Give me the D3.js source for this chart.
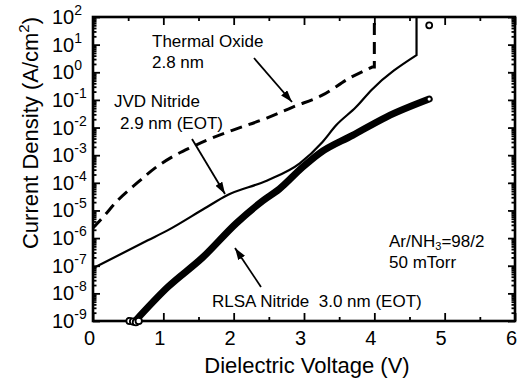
<!DOCTYPE html>
<html>
<head>
<meta charset="utf-8">
<script src="https://cdn.jsdelivr.net/npm/d3@7"></script>
<style>
  body { margin: 0; background: #fff; }
  svg { font-family: "Liberation Sans", Arial, Helvetica, sans-serif; }
</style>
</head>
<body>
<svg id="chart" width="519" height="384"></svg>
<script>
// Data (V in volts, J in A/cm^2)
const voltageTicks = [0, 1, 2, 3, 4, 5, 6];
const voltageMinor = [0.5, 1.5, 2.5, 3.5, 4.5, 5.5];
const decadeExps = [2, 1, 0, -1, -2, -3, -4, -5, -6, -7, -8, -9];

// Thermal oxide 2.8 nm (dashed), ends with breakdown jump at 4 V
const oxideV = [0, 0.14, 0.35, 0.64, 0.88, 1.12, 1.40, 1.62, 1.99, 2.47, 2.84, 3.26, 3.65, 3.97];
const oxideJ = [2.3e-6, 5.6e-6, 2.3e-5, 1.05e-4, 3.4e-4, 8.5e-4, 1.95e-3, 3.5e-3, 8.1e-3, 2.2e-2, 5.5e-2, 0.148, 0.62, 1.55];
const oxideBreak = [4.0, 100];

// JVD nitride 2.9 nm EOT (thin solid), breakdown at 4.6 V
const jvdV = [0, 0.78, 1.06, 1.59, 1.9, 2.47, 2.94, 3.26, 3.46, 3.74, 3.96, 4.6];
const jvdJ = [8.1e-8, 8.3e-7, 1.9e-6, 1.2e-5, 3.5e-5, 1.2e-4, 5.1e-4, 2.95e-3, 1.23e-2, 5.5e-2, 0.23, 4.2];
const jvdBreak = [4.6, 100];

// RLSA nitride 3.0 nm EOT (thick, open circles)
const rlsaV = [0.6, 1.06, 1.56, 2.04, 2.41, 2.65, 2.98, 3.22, 3.69, 4.17, 4.78];
const rlsaJ = [1.0e-9, 1.66e-8, 2.0e-7, 3.5e-6, 2.2e-5, 6.0e-5, 3.7e-4, 1.17e-3, 5.2e-3, 2.4e-2, 0.107];
const rlsaLowV = [0.52, 0.57, 0.61, 0.65];
const rlsaLowJ = [1.0e-9, 0.95e-9, 0.9e-9, 1.0e-9];
const rlsaBreak = [4.78, 50];

const svg = d3.select("#chart");
const margin = { left: 93, right: 515, top: 17, bottom: 321 };

const x = d3.scaleLinear().domain([0, 6]).range([margin.left, margin.right]);
const y = d3.scaleLog().domain([1e-9, 1e2]).range([margin.bottom, margin.top]);

const minorJ = [];
decadeExps.forEach(e => {
  if (e < 2) for (let k = 2; k <= 9; k++) minorJ.push(k * Math.pow(10, e));
});

// axes with inward ticks
function styleAxis(g) {
  g.select(".domain").remove();
  g.selectAll(".tick line").attr("stroke", "#000").attr("stroke-width", 1.8);
}

svg.append("g")
  .attr("transform", "translate(0," + margin.bottom + ")")
  .call(d3.axisBottom(x).tickValues(voltageTicks).tickSize(-8).tickPadding(10).tickFormat(d3.format("d")))
  .call(styleAxis)
  .call(g => g.selectAll(".tick text")
    .attr("font-size", 20).attr("fill", "#000").attr("dx", -4)
    .attr("font-family", "'Liberation Sans', Arial, sans-serif"));

svg.append("g")
  .attr("transform", "translate(0," + margin.bottom + ")")
  .call(d3.axisBottom(x).tickValues(voltageMinor).tickSize(-4).tickFormat(""))
  .call(styleAxis);

svg.append("g")
  .attr("transform", "translate(0," + margin.top + ")")
  .call(d3.axisTop(x).tickValues(voltageTicks).tickSize(-8).tickFormat(""))
  .call(styleAxis);

svg.append("g")
  .attr("transform", "translate(0," + margin.top + ")")
  .call(d3.axisTop(x).tickValues(voltageMinor).tickSize(-4).tickFormat(""))
  .call(styleAxis);

const decades = decadeExps.map(e => Math.pow(10, e));

svg.append("g")
  .attr("transform", "translate(" + margin.left + ",0)")
  .call(d3.axisLeft(y).tickValues(decades).tickSize(-7).tickFormat(""))
  .call(styleAxis);

svg.append("g")
  .attr("transform", "translate(" + margin.left + ",0)")
  .call(d3.axisLeft(y).tickValues(minorJ).tickSize(-3.5).tickFormat(""))
  .call(styleAxis);

svg.append("g")
  .attr("transform", "translate(" + margin.right + ",0)")
  .call(d3.axisRight(y).tickValues(decades).tickSize(-7).tickFormat(""))
  .call(styleAxis);

svg.append("g")
  .attr("transform", "translate(" + margin.right + ",0)")
  .call(d3.axisRight(y).tickValues(minorJ).tickSize(-3.5).tickFormat(""))
  .call(styleAxis);

// y tick labels 10^n
const yLab = svg.append("g").attr("fill", "#000");
decadeExps.forEach(e => {
  const t = yLab.append("text")
    .attr("x", 52)
    .attr("y", y(Math.pow(10, e)) + 7)
    .attr("font-size", 20);
  t.append("tspan").text("10");
  t.append("tspan").attr("dy", -9).attr("font-size", 14).text(e);
});

// frame
svg.append("rect")
  .attr("x", margin.left).attr("y", margin.top)
  .attr("width", margin.right - margin.left).attr("height", margin.bottom - margin.top)
  .attr("fill", "none").attr("stroke", "#000").attr("stroke-width", 2.6);

// curves
const line = d3.line()
  .x(d => x(d[0]))
  .y(d => y(d[1]))
  .curve(d3.curveMonotoneX);

const oxidePts = oxideV.map((v, i) => [v, oxideJ[i]]);
const jvdPts = jvdV.map((v, i) => [v, jvdJ[i]]);
const rlsaPts = rlsaV.map((v, i) => [v, rlsaJ[i]]);

svg.append("path")
  .attr("d", line(oxidePts) + "L" + x(oxideBreak[0]) + "," + y(oxideJ[oxideJ.length - 1]) +
    "L" + x(oxideBreak[0]) + "," + y(oxideBreak[1]))
  .attr("fill", "none").attr("stroke", "#000")
  .attr("stroke-width", 3).attr("stroke-dasharray", "12,7");

svg.append("path")
  .attr("d", line(jvdPts) + "L" + x(jvdBreak[0]) + "," + y(jvdBreak[1]))
  .attr("fill", "none").attr("stroke", "#000").attr("stroke-width", 2.2);

svg.append("path")
  .attr("d", line(rlsaPts))
  .attr("fill", "none").attr("stroke", "#000")
  .attr("stroke-width", 7).attr("stroke-linecap", "round");

svg.append("g").selectAll("circle")
  .data(rlsaLowV.map((v, i) => [v, rlsaLowJ[i]]))
  .enter().append("circle")
  .attr("cx", d => x(d[0])).attr("cy", d => y(d[1]))
  .attr("r", 3.2).attr("fill", "#fff").attr("stroke", "#000").attr("stroke-width", 1.8);

svg.append("circle")
  .attr("cx", x(rlsaV[rlsaV.length - 1])).attr("cy", y(rlsaJ[rlsaJ.length - 1]))
  .attr("r", 1.6).attr("fill", "#fff");

svg.append("circle")
  .attr("cx", x(rlsaBreak[0])).attr("cy", y(rlsaBreak[1]))
  .attr("r", 3).attr("fill", "#fff").attr("stroke", "#000").attr("stroke-width", 1.8);

// annotations
svg.append("defs").append("marker")
  .attr("id", "arrow")
  .attr("viewBox", "0 0 12 8")
  .attr("refX", 12).attr("refY", 4)
  .attr("markerWidth", 12).attr("markerHeight", 8)
  .attr("markerUnits", "userSpaceOnUse")
  .attr("orient", "auto")
  .append("path").attr("d", "M0,0L12,4L0,8Z").attr("fill", "#000");

const arrows = [
  [254, 58, 292, 102],
  [192, 139, 225, 194],
  [261, 287, 235, 248]
];
svg.append("g").selectAll("line")
  .data(arrows)
  .enter().append("line")
  .attr("x1", d => d[0]).attr("y1", d => d[1])
  .attr("x2", d => d[2]).attr("y2", d => d[3])
  .attr("stroke", "#000").attr("stroke-width", 1.8)
  .attr("marker-end", "url(#arrow)");

const notes = svg.append("g").attr("font-size", 17).attr("fill", "#000");
notes.append("text").attr("x", 152).attr("y", 47).text("Thermal Oxide");
notes.append("text").attr("x", 152).attr("y", 68).text("2.8 nm");
notes.append("text").attr("x", 114).attr("y", 107).text("JVD Nitride");
notes.append("text").attr("x", 120).attr("y", 129).text("2.9 nm (EOT)");
notes.append("text").attr("x", 212).attr("y", 307).attr("xml:space", "preserve").text("RLSA Nitride  3.0 nm (EOT)");
const arT = notes.append("text").attr("x", 389).attr("y", 247);
arT.append("tspan").text("Ar/NH");
arT.append("tspan").attr("dy", 3).attr("font-size", 11).text("3");
arT.append("tspan").attr("dy", -3).text("=98/2");
notes.append("text").attr("x", 389).attr("y", 268).text("50 mTorr");

// axis titles
svg.append("text")
  .attr("x", 307).attr("y", 373)
  .attr("text-anchor", "middle").attr("font-size", 22)
  .text("Dielectric Voltage (V)");

const yt = svg.append("text")
  .attr("transform", "translate(38,133) rotate(-90)")
  .attr("text-anchor", "middle").attr("font-size", 22);
yt.append("tspan").text("Current Density (A/cm");
yt.append("tspan").attr("dy", -9).attr("font-size", 15).text("2");
yt.append("tspan").attr("dy", 9).text(")");
</script>
</body>
</html>
